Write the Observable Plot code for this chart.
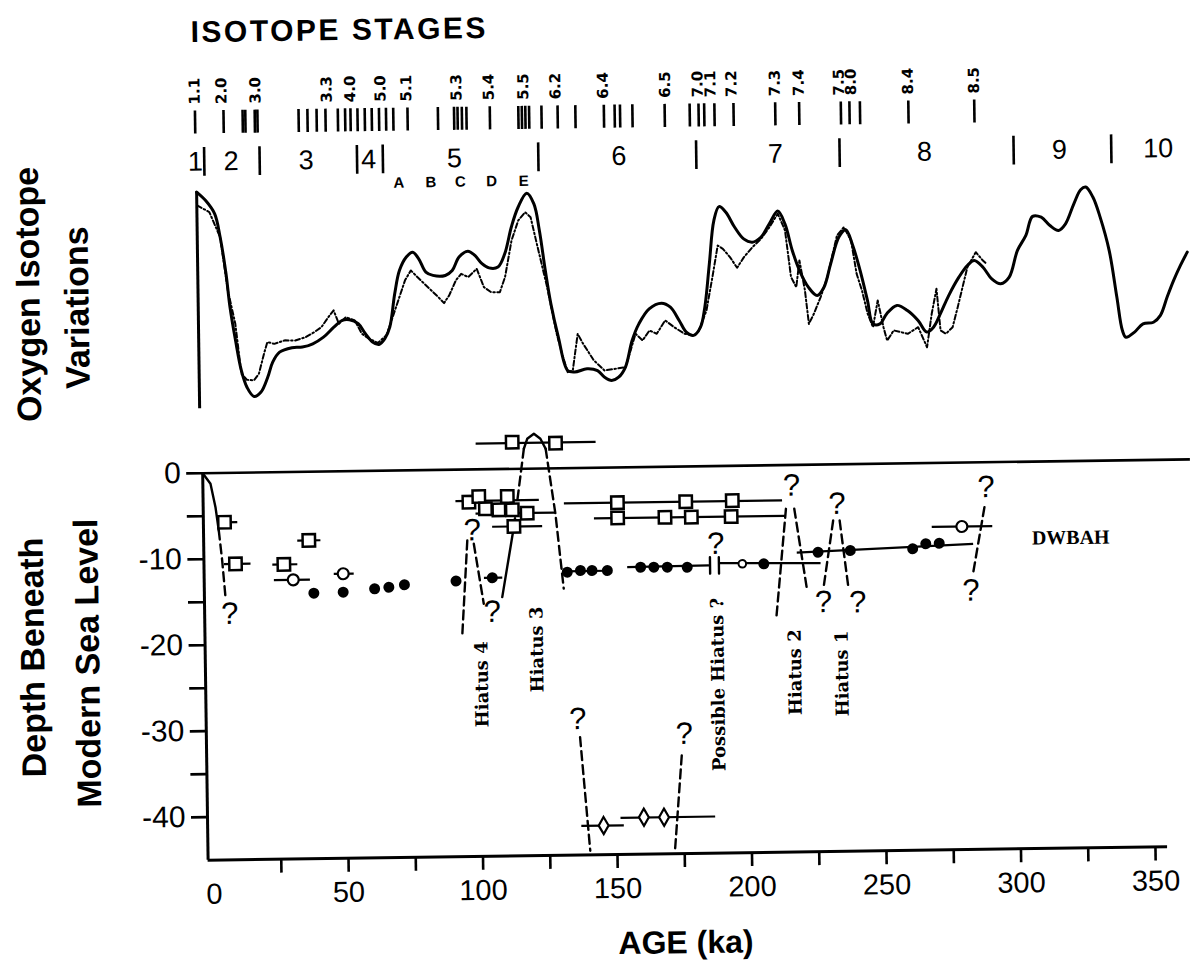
<!DOCTYPE html>
<html><head><meta charset="utf-8">
<script src="https://cdn.jsdelivr.net/npm/d3@7"></script>
<script src="https://cdn.jsdelivr.net/npm/@observablehq/plot@0.6"></script>
<style>
html,body{margin:0;padding:0;background:#fff;}
#wrap{position:relative;width:1193px;height:970px;transform:rotate(-0.8deg);transform-origin:596px 485px;}
#upper,#lower{position:absolute;left:0;}
#upper{top:0;} #lower{top:420px;}
</style></head><body>
<div id="wrap"><div id="upper"></div><div id="lower"></div></div>
<script>
// ---------- UPPER PANEL DATA (age ka, relative isotope value) ----------
const isotopeSolid = [[-3.0,9.75],[0.3,9.39],[3.6,8.83],[5.5,7.86],[7.5,6.33],[8.8,4.94],[10.7,3.54],[12.7,2.29],[14.7,1.59],[17.3,1.20],[19.9,1.38],[22.5,2.0],[24.4,2.62],[27.0,3.03],[31.6,3.21],[35.5,3.23],[39.4,3.36],[43.4,3.63],[47.3,4.04],[50.5,4.32],[53.1,4.34],[56.4,4.17],[59.0,3.75],[61.6,3.40],[64.0,3.29],[66.2,3.53],[68.1,4.01],[70.1,5.40],[72.0,6.37],[74.6,6.92],[77.0,7.12],[79.2,6.84],[81.8,6.28],[84.4,6.14],[89.0,6.13],[91.6,6.33],[94.2,6.89],[97.5,7.13],[100.1,6.95],[102.7,6.60],[105.3,6.42],[108.6,6.45],[111.2,7.0],[113.8,8.11],[116.4,8.93],[119.7,9.51],[122.3,9.06],[124.2,7.95],[126.2,6.28],[128.1,4.89],[130.7,3.50],[134.0,2.10],[136.6,2.03],[141.2,2.16],[145.1,2.08],[147.7,1.80],[150.3,1.66],[152.9,1.79],[155.5,2.21],[158.1,3.31],[160.7,4.0],[164.6,4.62],[169.2,4.85],[172.5,4.68],[175.7,4.12],[178.3,3.63],[181.0,3.49],[183.6,3.83],[185.3,4.66],[187.2,6.46],[189.1,8.26],[191.1,8.84],[193.6,8.60],[196.8,7.97],[200.1,7.48],[203.3,7.34],[206.5,7.54],[209.7,8.09],[212.9,8.62],[215.5,8.08],[218.1,6.97],[220.7,6.13],[223.9,5.43],[227.1,5.08],[229.7,5.42],[232.3,6.39],[235.5,7.50],[238.1,7.80],[240.6,7.14],[243.2,6.10],[245.8,4.84],[247.7,3.87],[250.3,3.86],[252.9,4.28],[256.7,4.62],[260.6,4.40],[264.5,3.98],[267.7,3.49],[270.2,3.69],[272.8,4.24],[276.0,5.0],[279.9,5.76],[283.1,6.24],[285.7,6.45],[288.9,6.16],[292.1,5.67],[295.4,5.46],[298.6,5.73],[301.8,6.84],[305.0,7.46],[307.6,8.25],[310.8,8.21],[314.0,7.86],[317.2,7.65],[319.8,7.92],[323.0,8.75],[325.6,9.33],[327.5,9.44],[330.1,9.02],[332.7,8.18],[335.9,6.78],[338.5,4.84],[340.4,3.44],[341.7,3.16],[344.9,3.37],[348.1,3.71],[352.0,3.77],[354.6,4.05],[357.2,4.81],[359.7,5.50],[362.3,6.12],[364.9,6.67]];

const isotopeDashed = [[-2.9,9.19],[1.6,8.91],[5.5,7.86],[8.1,5.63],[10.7,4.24],[12.7,2.15],[14.7,1.90],[17.3,1.87],[19.2,2.14],[21.2,2.97],[22.5,3.46],[25.1,3.38],[29.0,3.52],[32.9,3.51],[36.8,3.64],[40.1,3.85],[42.7,4.05],[45.3,4.46],[47.3,4.74],[49.2,4.18],[51.8,4.45],[55.1,4.31],[57.7,3.75],[60.3,3.54],[63.6,3.36],[66.8,3.67],[68.8,4.29],[71.4,5.12],[74.0,5.95],[76.2,6.36],[78.6,6.08],[82.5,5.65],[85.7,5.30],[88.4,4.98],[90.3,5.29],[92.9,5.92],[94.9,6.19],[97.5,6.05],[100.7,6.39],[103.3,5.62],[105.9,5.41],[109.2,5.40],[111.2,6.03],[113.8,7.55],[116.4,8.38],[119.0,8.72],[121.0,8.51],[122.9,7.54],[126.8,5.58],[130.1,3.64],[132.0,2.80],[134.0,2.03],[135.9,2.10],[137.9,3.62],[139.9,3.20],[143.8,2.50],[147.7,2.08],[151.6,2.14],[155.5,2.21],[157.5,2.90],[159.4,3.59],[162.0,3.31],[164.6,3.72],[167.3,3.58],[170.5,4.13],[173.8,3.84],[177.7,3.56],[181.0,3.49],[182.7,3.62],[185.9,4.52],[188.5,6.04],[190.4,7.22],[192.3,7.08],[194.9,6.73],[197.5,6.28],[200.1,6.72],[203.3,7.13],[206.5,7.47],[209.7,7.95],[212.9,8.51],[215.5,7.81],[217.5,5.86],[219.4,5.44],[220.7,6.55],[222.6,5.30],[223.9,3.90],[225.8,4.32],[228.4,5.01],[231.0,5.84],[234.8,7.57],[237.4,7.91],[240.0,7.35],[241.9,5.96],[243.8,5.26],[245.8,4.29],[247.7,3.73],[249.6,4.84],[251.6,3.72],[252.9,3.16],[255.4,3.58],[260.6,3.43],[264.5,3.70],[267.7,2.86],[269.6,4.25],[271.5,5.29],[272.8,3.55],[274.8,3.41],[277.3,3.68],[279.3,4.51],[281.2,5.34],[283.1,6.17],[286.3,6.79],[288.9,6.44],[290.2,6.30]];

const substageLabels = ["1.1","2.0","3.0","3.3","4.0","5.0","5.1","5.3","5.4","5.5","6.2","6.4","6.5","7.0","7.1","7.2","7.3","7.4","7.5","8.0","8.4","8.5"];
const substageLabelAges = [-3.2,6.8,19.4,45.9,54.6,65.9,75.5,94.1,106.1,119.0,130.9,148.6,171.7,183.8,188.6,196.4,212.5,221.4,236.3,240.8,262.0,286.5];
const substageTickAges = [-3.2,7.4,14.5,15.5,19.0,20.0,35.3,38.6,42.0,45.3,49.9,52.6,54.6,57.2,59.9,62.5,65.2,67.8,70.5,75.8,87.1,93.1,94.4,96.0,97.7,106.4,117.0,118.3,119.6,121.0,125.6,131.6,138.2,148.8,152.8,154.8,159.4,171.4,180.7,184.0,186.1,189.9,197.0,212.5,221.4,236.9,240.1,244.0,262.0,286.5];
const stageNumbers = ["1","2","3","4","5","6","7","8","9","10"];
const stageNumberAges = [-3.3,10.0,37.9,61.1,93.0,154.1,212.3,267.7,317.9,354.6];
const stageBoundaryAges = [0.0,20.6,56.8,66.4,124.2,182.9,236.2,300.9,337.2];
const substageLetters = ["A","B","C","D","E"];
const substageLetterAges = [72.2,84.1,95.1,106.7,118.6];

// ---------- LOWER PANEL DATA (age ka, depth m) ----------
const openSquares = [[5.65,-5.74],[9.52,-10.6],[27.5,-10.74],[36.9,-7.99],[96.6,-3.8],[100.3,-3.16],[102.7,-4.6],[107.7,-4.74],[110.9,-3.2],[112.7,-4.76],[118.2,-5.18],[113.2,-6.7],[113.0,3.1],[129.1,2.92],[151.8,-4.1],[177.2,-4.1],[194.5,-4.05],[151.8,-5.88],[169.4,-5.88],[179.2,-5.9],[194.0,-5.9]];
const openCircles = [[30.9,-12.54],[49.5,-11.92],[279.7,-7.43]];
const smallCircles = [[197.9,-11.41]];
const filledDots = [[38.5,-14.13],[49.4,-14.06],[61.1,-13.72],[66.4,-13.56],[72.2,-13.3],[91.4,-12.95],[104.9,-12.63],[132.8,-12.1],[137.7,-11.93],[142.0,-11.95],[147.7,-11.97],[160.1,-11.64],[165.0,-11.66],[170.0,-11.68],[177.4,-11.72],[205.9,-11.45],[226.1,-10.19],[238.1,-10.04],[261.3,-9.94],[266.2,-9.38],[271.2,-9.34]];
const diamonds = [[145.0,-41.62],[160.0,-40.72],[167.5,-40.75]];

const barStartAge = [4.5,5.2,23.2,32.6,23.7,46.0,101.8,91.6,99.0,105.1,99.4,131.4,155.1,189.2,131.9,143.0,136.7,151.3,268.5,218.2];
const barEndAge   = [10.4,15.1,32.5,41.2,37.1,53.4,108.6,122.6,128.7,123.7,144.0,147.7,185.5,227.0,213.0,214.3,152.5,186.5,291.0,283.8];
const barStartDepth = [-5.74,-10.6,-10.74,-7.99,-12.54,-11.92,-12.63,-3.65,-5.15,-6.7,3.0,-12.0,-11.62,-11.3,-4.1,-5.88,-41.62,-40.75,-7.43,-10.2];
const barEndDepth   = [-5.74,-10.6,-10.74,-7.99,-12.54,-11.92,-12.63,-3.65,-5.15,-6.7,3.0,-12.0,-11.55,-11.47,-4.1,-5.9,-41.62,-40.75,-7.43,-9.46];

const solidConnectors = [
  [[-2.2,0],[0.64,-1.24],[2.38,-3.98],[3.48,-6.69]],
  [[113.2,-6.7],[108.5,-14.9]],
  [[117.3,2.32],[118.6,3.47],[121.1,4.04],[123.5,3.45],[125.4,2.28]],
  [[185.9,-10.6],[185.9,-12.5]],
  [[189.2,-10.6],[189.2,-12.5]]
];
const dashedConnectors = [
  [[3.48,-6.69],[4.59,-10.19],[5.63,-14.46]],
  [[95.8,-8.26],[93.4,-19.5]],
  [[98.2,-8.65],[101.6,-15.64]],
  [[117.3,2.32],[114.6,-3.7],[113.2,-6.7]],
  [[125.4,2.28],[128.7,-5.3],[131.4,-14.0]],
  [[214.4,-5.09],[210.3,-17.68]],
  [[217.5,-5.1],[221.7,-14.24]],
  [[231.9,-6.52],[228.0,-14.27]],
  [[234.3,-6.53],[237.2,-14.3]],
  [[288.2,-5.22],[283.6,-12.95]],
  [[136.7,-31.31],[139.9,-44.52]],
  [[174.4,-33.6],[171.4,-44.64]]
];
const questionMarks = [[7.1,-16.4],[97.7,-7.1],[104.7,-16.6],[135.9,-29.2],[175.4,-31.1],[188.1,-9.05],[216.6,-2.4],[233.4,-4.6],[227.9,-16.0],[240.6,-16.1],[288.9,-2.9],[282.8,-14.9]];
const hiatusLabels = ["Hiatus 4","Hiatus 3","Possible Hiatus ?","Hiatus 2","Hiatus 1"];
const hiatusLabelAges = [100.6,121.2,188.4,217.1,234.5];
const hiatusLabelDepths = [-25.0,-21.04,-25.4,-24.1,-24.33];
const depthTicks = [0,-5,-10,-15,-20,-25,-30,-35,-40];
const depthLabels = [0,-10,-20,-30,-40];
const ageTicks = [25,50,75,100,125,150,175,200,225,250,275,300,325,350];
const ageLabels = [0,50,100,150,200,250,300,350];

// ---------- build ----------
const SANS = "Liberation Sans, Arial, Helvetica, sans-serif";
const xOpts = {domain: [-2.2, 365], range: [202.4, 1190.2], axis: null, label: null};
const flat = (groups) => groups.flatMap((g, k) => g.map(p => ({age: p[0], val: p[1], k})));

const upper = Plot.plot({
  width: 1193, height: 420, marginLeft: 202.4, marginRight: 2.8, marginTop: 180, marginBottom: 0,
  x: xOpts,
  y: {domain: [0, 10], range: [420, 180], axis: null, label: null},
  style: {fontFamily: SANS, background: "white", color: "black"},
  marks: [
    Plot.ruleX([-3.0], {y1: 0.72, y2: 9.75, strokeWidth: 3}),
    Plot.line(isotopeDashed, {x: d => d[0], y: d => d[1], strokeWidth: 2, strokeDasharray: "5,2.5,1.5,2.5"}),
    Plot.line(isotopeSolid, {x: d => d[0], y: d => d[1], strokeWidth: 3, curve: "catmull-rom"}),
    Plot.ruleX(substageTickAges, {y1: 12.17, y2: 13.13, strokeWidth: 2.6}),
    Plot.text(substageLabels, {x: (d, i) => substageLabelAges[i], y: 13.4, text: d => d, rotate: -90, textAnchor: "start", lineAnchor: "middle", fontSize: 15, fontWeight: "bold", fontFamily: "DejaVu Sans, sans-serif"}),
    Plot.ruleX(stageBoundaryAges, {y1: 10.4, y2: 11.6, strokeWidth: 2.6}),
    Plot.text(stageNumbers, {x: (d, i) => stageNumberAges[i], y: 11.0, text: d => d, fontSize: 27, lineAnchor: "middle"}),
    Plot.text(substageLetters, {x: (d, i) => substageLetterAges[i], y: 10.02, text: d => d, fontSize: 15, fontWeight: "bold", lineAnchor: "middle"}),
    Plot.text(["ISOTOPE STAGES"], {x: -4.4, y: 16.4, text: d => d, textAnchor: "start", lineAnchor: "middle", fontSize: 30, fontWeight: "bold"}),
    Plot.text(["Oxygen Isotope"], {x: -66, y: 5.58, text: d => d, rotate: -90, lineAnchor: "middle", fontSize: 34, fontWeight: "bold"}),
    Plot.text(["Variations"], {x: -47.8, y: 5.0, text: d => d, rotate: -90, lineAnchor: "middle", fontSize: 34, fontWeight: "bold"})
  ]
});
d3.select(upper).selectAll("text").filter(function(){ return this.textContent === "ISOTOPE STAGES"; }).attr("letter-spacing", "2.5px");
document.getElementById("upper").appendChild(upper);

const lower = Plot.plot({
  width: 1193, height: 550, marginLeft: 202.4, marginRight: 2.8, marginTop: 47.2, marginBottom: 115.8,
  x: xOpts,
  y: {domain: [-45, 0], range: [434.2, 47.2], axis: null, label: null},
  style: {fontFamily: SANS, background: "white", color: "black"},
  marks: [
    Plot.ruleY([0], {x1: -2.2, x2: 365, strokeWidth: 2.6}),
    Plot.ruleY([-45], {x1: -2.2, x2: 354.5, strokeWidth: 3}),
    Plot.ruleX([-2.2], {y1: 0, y2: -45, strokeWidth: 3}),
    Plot.axisY({ticks: depthTicks, anchor: "left", label: null, tickSize: 16, tickFormat: () => "", strokeWidth: 2.6}),
    Plot.axisY({ticks: depthLabels, anchor: "left", label: null, tickSize: 0, tickPadding: 22, fontSize: 30, tickFormat: d => String(d)}),
    Plot.axisX({ticks: ageTicks, anchor: "bottom", label: null, tickSize: 14, tickFormat: () => "", strokeWidth: 2.6}),
    Plot.axisX({ticks: ageLabels, anchor: "bottom", label: null, tickSize: 0, tickPadding: 23, fontSize: 29, tickFormat: d => String(d)}),
    Plot.link(barStartAge, {x1: d => d, x2: (d, i) => barEndAge[i], y1: (d, i) => barStartDepth[i], y2: (d, i) => barEndDepth[i], strokeWidth: 2.2}),
    Plot.line(flat(solidConnectors), {x: "age", y: "val", z: "k", strokeWidth: 2.4}),
    Plot.line(flat(dashedConnectors), {x: "age", y: "val", z: "k", strokeWidth: 2.4, strokeDasharray: "9,5"}),
    Plot.dot(openSquares, {x: d => d[0], y: d => d[1], symbol: "square", r: 7, fill: "white", stroke: "black", strokeWidth: 2.5}),
    Plot.dot(openCircles, {x: d => d[0], y: d => d[1], r: 5.5, fill: "white", stroke: "black", strokeWidth: 2.2}),
    Plot.dot(smallCircles, {x: d => d[0], y: d => d[1], r: 3.8, fill: "white", stroke: "black", strokeWidth: 2}),
    Plot.dot(filledDots, {x: d => d[0], y: d => d[1], r: 5.5, fill: "black", stroke: "none"}),
    Plot.dot(diamonds, {x: d => d[0], y: d => d[1], symbol: "diamond", r: 5.2, fill: "white", stroke: "black", strokeWidth: 2.2}),
    Plot.text(questionMarks, {x: d => d[0], y: d => d[1], text: () => "?", fontSize: 31, lineAnchor: "middle"}),
    Plot.text(hiatusLabels, {x: (d, i) => hiatusLabelAges[i], y: (d, i) => hiatusLabelDepths[i], text: d => d, rotate: -90, lineAnchor: "middle", fontSize: 18, fontWeight: "bold", fontFamily: "DejaVu Serif, serif"}),
    Plot.text(["DWBAH"], {x: 320.1, y: -8.9, text: d => d, fontSize: 20, fontWeight: "bold", fontFamily: "Liberation Serif, Times New Roman, serif", lineAnchor: "middle"}),
    Plot.text(["AGE (ka)"], {x: 175, y: -55.4, text: d => d, fontSize: 32, fontWeight: "bold", lineAnchor: "middle"}),
    Plot.text(["Depth Beneath"], {x: -66.1, y: -21.15, text: d => d, rotate: -90, lineAnchor: "middle", fontSize: 34, fontWeight: "bold"}),
    Plot.text(["Modern Sea Level"], {x: -45.7, y: -21.9, text: d => d, rotate: -90, lineAnchor: "middle", fontSize: 34, fontWeight: "bold"})
  ]
});
document.getElementById("lower").appendChild(lower);
</script></body></html>
